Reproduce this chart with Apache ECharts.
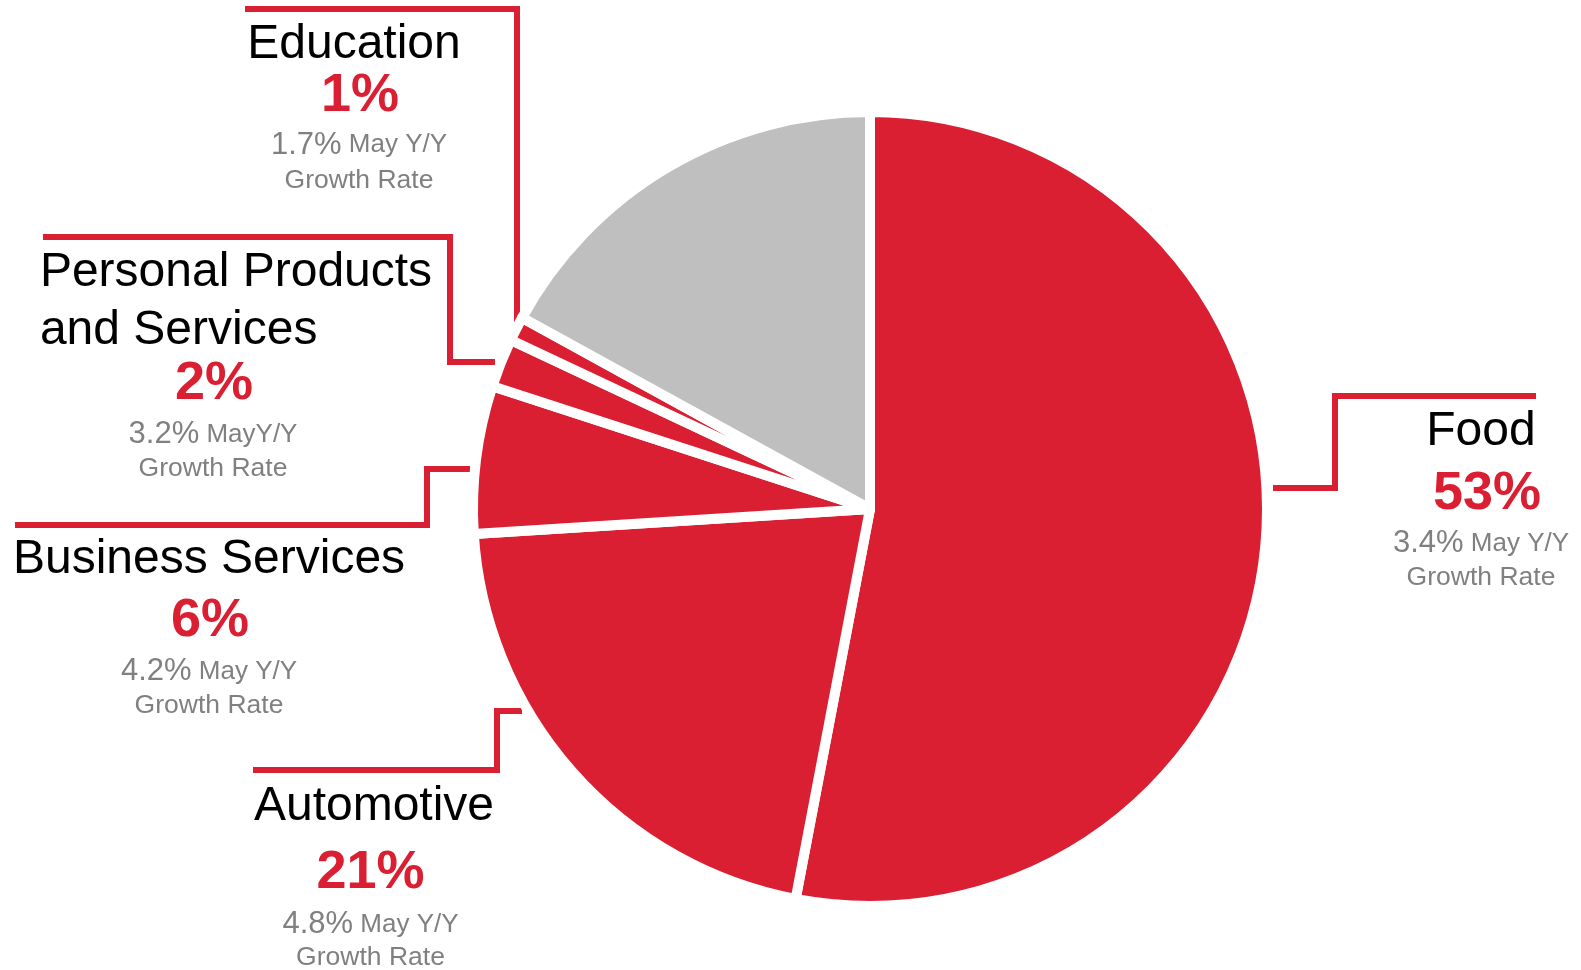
<!DOCTYPE html>
<html><head><meta charset="utf-8">
<script src="https://cdn.jsdelivr.net/npm/echarts@6/dist/echarts.min.js"></script>
<style>html,body{margin:0;padding:0;background:#fff}#c{width:1581px;height:970px}</style>
</head><body><div id="c"></div>
<script>
// ---- data ----
const categories = ['Food', 'Automotive', 'Business Services', 'Personal Products\nand Services', 'Education', 'Other'];
const shares = [53, 21, 6, 2, 1, 17];
const growthRates = ['3.4%', '4.8%', '4.2%', '3.2%', '1.7%', null];
const growthSuffix = [' May Y/Y', ' May Y/Y', ' May Y/Y', ' MayY/Y', ' May Y/Y', null];
const growthNote = 'Growth Rate';

// ---- styles / layout ----
const RED = '#DB1F33', GRAY = '#BFBFBF', TXT_GRAY = '#808080';
const FONT = '"Liberation Sans", Arial, sans-serif';
const TEXT_DY = 3;

// label placement: x = centre of name, dx = shift of value lines, pdx = extra shift of % line,
// lines = centre y of each text line
const labelBoxes = [
  {x: 1481, dx: 0, pdx: 6, lines: [428.5, 491, 540.5, 574.7], leader: [[1273, 488], [1335, 488], [1335, 396], [1536, 396]]},
  {x: 374, dx: -3.5, pdx: 0, lines: [803.6, 870, 921.6, 955], leader: [[522, 711], [497, 711], [497, 770], [253, 770]]},
  {x: 209, dx: 0, pdx: 1, lines: [556.6, 618, 668.5, 703], leader: [[470, 469], [427, 469], [427, 525], [15, 525]]},
  {x: 236, dx: -23, pdx: 1, nameAlign: 'left', lines: [270, 328, 381, 431.5, 466], leader: [[495, 362], [450, 362], [450, 237], [43, 237]]},
  {x: 354, dx: 5, pdx: 1, lines: [41.3, 92.8, 142.2, 177.5], leader: [[517, 323], [517, 9], [245, 9]]}
];

function hPad(d) { return d > 0 ? [0, 0, 0, 2 * d] : [0, -2 * d, 0, 0]; }

const rich = {};
labelBoxes.forEach((b, i) => {
  const nameLines = categories[i].split('\n');
  const c = b.lines.map(v => v + TEXT_DY), L = [];
  L[0] = c[1] - c[0];
  for (let k = 1; k < c.length; k++) L[k] = 2 * (c[k] - c[k - 1]) - L[k - 1];
  b.top = c[0] - L[0] / 2;
  nameLines.forEach((t, k) => {
    rich['n' + i + '_' + k] = {fontSize: 48, color: '#000', lineHeight: L[k], align: b.nameAlign || 'center', fontFamily: FONT};
  });
  const m = nameLines.length;
  rich['p' + i] = {fontSize: 54, fontWeight: 'bold', color: RED, lineHeight: L[m], padding: hPad(b.dx + b.pdx), fontFamily: FONT};
  rich['v' + i] = {fontSize: 31, color: TXT_GRAY, lineHeight: L[m + 1], padding: b.dx > 0 ? [0, 0, 0, 2 * b.dx] : 0, fontFamily: FONT};
  rich['s' + i] = {fontSize: 26, color: TXT_GRAY, lineHeight: L[m + 1], padding: b.dx < 0 ? [0, -2 * b.dx, 0, 0] : 0, fontFamily: FONT};
  rich['g' + i] = {fontSize: 26.5, color: TXT_GRAY, lineHeight: L[m + 2], padding: hPad(b.dx), fontFamily: FONT};
});

const data = categories.map((name, i) => {
  const lab = growthRates[i] != null;
  return {
    name, value: shares[i],
    itemStyle: {color: lab ? RED : GRAY},
    label: {show: lab},
    labelLine: {show: lab}
  };
});

const chart = echarts.init(document.getElementById('c'));
chart.setOption({
  animation: false,
  backgroundColor: '#fff',
  series: [{
    type: 'pie',
    center: [870, 509],
    radius: 397,
    startAngle: 90,
    clockwise: true,
    avoidLabelOverlap: false,
    silent: true,
    itemStyle: {borderColor: '#fff', borderWidth: 10},
    label: {
      show: true,
      position: 'outside',
      fontFamily: FONT,
      formatter: p => {
        const i = p.dataIndex;
        const nl = categories[i].split('\n').map((t, k) => `{n${i}_${k}|${t}}`).join('\n');
        return `${nl}\n{p${i}|${shares[i]}%}\n{v${i}|${growthRates[i]}}{s${i}|${growthSuffix[i]}}\n{g${i}|${growthNote}}`;
      },
      rich
    },
    labelLine: {show: true, length: 10, length2: 10, smooth: false, lineStyle: {color: RED, width: 6}},
    labelLayout: p => {
      const b = labelBoxes[p.dataIndex];
      if (!b) return {};
      return {x: b.x, y: b.top, align: 'center', verticalAlign: 'top', labelLinePoints: b.leader};
    },
    data
  }]
});
</script>
</body></html>
